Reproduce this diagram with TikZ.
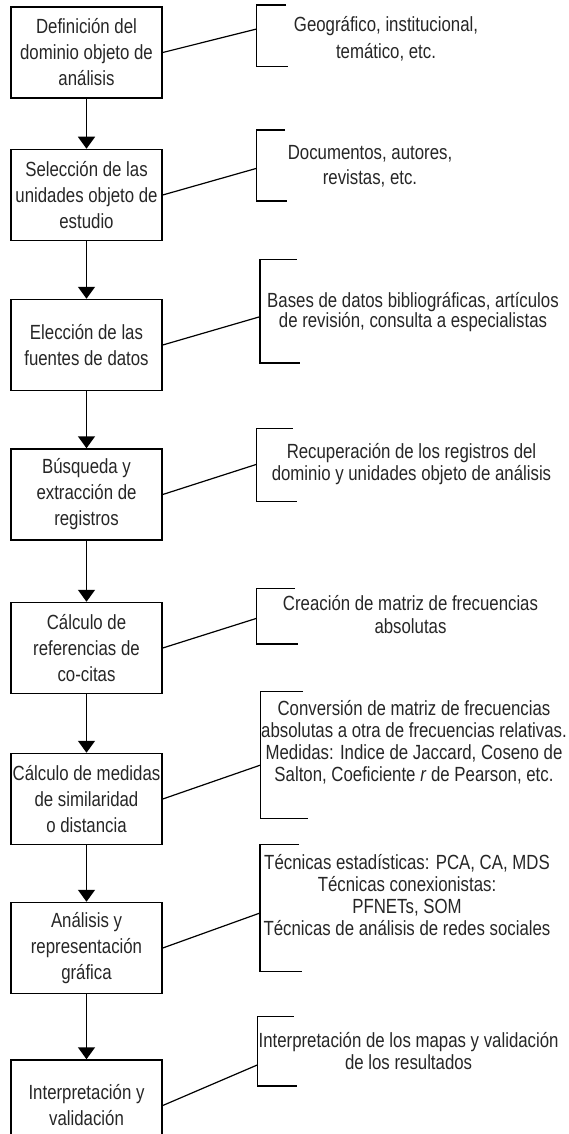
\documentclass[tikz,border=0pt]{standalone}
\usepackage{fontspec}
\setmainfont{Liberation Sans}[FakeStretch=0.82]
\usetikzlibrary{arrows.meta,positioning}

\begin{document}
\begin{tikzpicture}[x=1pt,y=-1pt,>={Triangle[length=12pt,width=17pt]},
font=\fontsize{20.5}{26}\selectfont,text=black!85]
\tikzstyle{etapa}=[draw,line width=1.5pt,minimum width=151pt,minimum height=91pt,align=center,inner sep=1pt]
\tikzstyle{nota}=[align=center,inner sep=0pt,font=\fontsize{20.5}{22}\selectfont]
\tikzstyle{corchete}=[line width=1.2pt]
\tikzstyle{flecha}=[->,line width=1.5pt]
\tikzstyle{enlace}=[line width=1.2pt]

\useasboundingbox (0,0) rectangle (568,1134);
\clip (0,0) rectangle (568,1134);

% pasos del proceso
\node[etapa] (b1) at (86.5,52.5) {Definición del\\dominio objeto de\\análisis};
\node[etapa] (b2) [below=50pt of b1] {Selección de las\\unidades objeto de\\estudio};
\node[etapa] (b3) [below=57.5pt of b2] {Elección de las\\fuentes de datos};
\node[etapa] (b4) [below=57pt of b3] {Búsqueda y\\extracción de\\registros};
\node[etapa] (b5) [below=61pt of b4] {Cálculo de\\referencias de\\co-citas};
\node[etapa] (b6) [below=58.5pt of b5] {Cálculo de medidas\\de similaridad\\o distancia};
\node[etapa] (b7) [below=56.5pt of b6] {Análisis y\\representación\\gráfica};
\node[etapa] (b8) [below=65pt of b7] {Interpretación y\\validación};

% notas
\node[nota,font=\fontsize{20.5}{27}\selectfont] (n1) at (386,38.5) {Geográfico, institucional,\\temático, etc.};
\node[nota,font=\fontsize{20.5}{25}\selectfont] (n2) at (370,165.8) {Documentos, autores,\\revistas, etc.};
\node[nota,font=\fontsize{20.5}{20}\selectfont] (n3) at (413,311.7) {Bases de datos bibliográficas, artículos\\de revisión, consulta a especialistas};
\node[nota] (n4) at (411.5,464.2) {Recuperación de los registros del\\dominio y unidades objeto de análisis};
\node[nota,font=\fontsize{20.5}{23}\selectfont] (n5) at (410.5,615) {Creación de matriz de frecuencias\\absolutas};
\node[nota] (n6) at (414,742.5) {Conversión de matriz de frecuencias\\absolutas a otra de frecuencias relativas.\\Medidas: Indice de Jaccard, Coseno de\\Salton, Coeficiente \textit{r} de Pearson, etc.};
\node[nota] (n7) at (407,894.7) {Técnicas estadísticas: PCA, CA, MDS\\Técnicas conexionistas:\\PFNETs, SOM\\Técnicas de análisis de redes sociales};
\node[nota] (n8) at (408.6,1050.8) {Interpretación de los mapas y validación\\de los resultados};

% corchetes
\draw[corchete] (286,5) -| (256.7,66.7) -- (288,66.7);
\draw[corchete] (285,130) -| (256.7,201) -- (287,201);
\draw[corchete] (296.7,259.3) -| (260,363) -- (300,363);
\draw[corchete] (292.7,428.3) -| (256.7,501.7) -- (296.7,501.7);
\draw[corchete] (295,588.3) -| (256.7,644) -- (298,644);
\draw[corchete] (303,691.7) -| (260.7,818.3) -- (308,818.3);
\draw[corchete] (299,844.7) -| (260,971.3) -- (301.7,971.3);
\draw[corchete] (293.5,1016.7) -| (257.2,1086) -- (297,1086);

\coordinate (k1) at (256.7,29);
\coordinate (k2) at (256.7,168.3);
\coordinate (k3) at (260,316.7);
\coordinate (k4) at (256.7,464.3);
\coordinate (k5) at (256.7,618.3);
\coordinate (k6) at (260.7,765);
\coordinate (k7) at (260,913);
\coordinate (k8) at (257.2,1065);

\path[flecha] (b1) edge (b2)
(b2) edge (b3)
(b3) edge (b4)
(b4) edge (b5)
(b5) edge (b6)
(b6) edge (b7)
(b7) edge (b8);

\path[enlace] (b1.east) edge (k1)
(b2.east) edge (k2)
(b3.east) edge (k3)
(b4.east) edge (k4)
(b5.east) edge (k5)
(b6.east) edge (k6)
(b7.east) edge (k7)
(b8.east) edge (k8);
\end{tikzpicture}
\end{document}
